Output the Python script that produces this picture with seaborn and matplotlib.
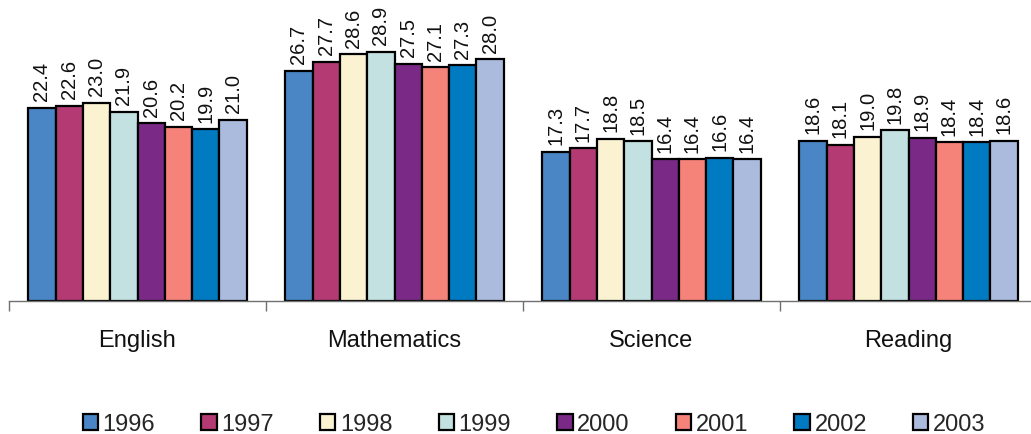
import matplotlib
matplotlib.use("Agg")
import matplotlib.pyplot as plt
import seaborn as sns
import pandas as pd

subjects = ["English", "Mathematics", "Science", "Reading"]
years = ["1996", "1997", "1998", "1999", "2000", "2001", "2002", "2003"]
english = [22.4, 22.6, 23.0, 21.9, 20.6, 20.2, 19.9, 21.0]
mathematics = [26.7, 27.7, 28.6, 28.9, 27.5, 27.1, 27.3, 28.0]
science = [17.3, 17.7, 18.8, 18.5, 16.4, 16.4, 16.6, 16.4]
reading = [18.6, 18.1, 19.0, 19.8, 18.9, 18.4, 18.4, 18.6]
colors = ["#4A86C5", "#B33A73", "#FAF2D0", "#C2E1E0",
          "#7A2A86", "#F5837A", "#007AC1", "#AABBDD"]

rows = []
for subj, vals in zip(subjects, [english, mathematics, science, reading]):
    for yr, v in zip(years, vals):
        rows.append({"subject": subj, "year": yr, "score": v})
df = pd.DataFrame(rows)

sns.set_theme(style="white")
plt.rcParams["font.family"] = ["Liberation Sans", "DejaVu Sans"]

fig = plt.figure(figsize=(10.31, 4.35), dpi=100)
ax = fig.add_axes([9 / 1031, 1 - 302 / 435, 1028 / 1031, 302 / 435])

sns.barplot(data=df, x="subject", y="score", hue="year", order=subjects,
            hue_order=years, palette=colors, width=0.85, gap=0,
            edgecolor="black", linewidth=1.6, saturation=1, errorbar=None,
            ax=ax)

for cont in ax.containers:
    ax.bar_label(cont, fmt="%.1f", rotation=90, padding=5.5, fontsize=14.5,
                 color="#111111")

ax.set_xlim(-0.5, 3.5)
ax.set_ylim(0, 35)
ax.set_xlabel("")
ax.set_ylabel("")
ax.set_yticks([])
for side in ["left", "right", "top"]:
    ax.spines[side].set_visible(False)
ax.spines["bottom"].set_color("#707070")
ax.spines["bottom"].set_linewidth(1.0)

# category labels centred, tick marks at the group boundaries
ax.set_xticks(range(len(subjects)))
ax.set_xticklabels(subjects, fontsize=17, color="#111111")
ax.tick_params(axis="x", which="major", length=0, pad=20)
ax.set_xticks([i - 0.5 for i in range(len(subjects) + 1)], minor=True)
ax.tick_params(axis="x", which="minor", direction="out", length=7,
               width=1.0, color="#707070", bottom=True)

handles, labels = ax.get_legend_handles_labels()
ax.legend_.remove()
for h in handles:
    h.set_linewidth(1.6)
fig.legend(handles, labels, loc="center", bbox_to_anchor=(0.518, 0.023),
           ncol=8, frameon=False, fontsize=17, handlelength=0.65,
           handleheight=0.65, handletextpad=0.2, columnspacing=1.95)

fig.savefig("out.png", dpi=100)
